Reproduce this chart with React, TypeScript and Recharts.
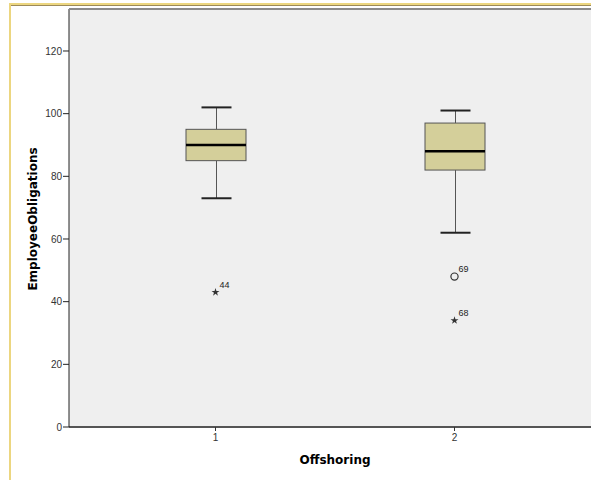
import { Bar, CartesianGrid, ComposedChart, Scatter, XAxis, YAxis } from "recharts";

const categories = ["1", "2"];
const whiskerLow = [73, 62];
const q1 = [85, 82];
const median = [90, 88];
const q3 = [95, 97];
const whiskerHigh = [102, 101];
const extremeValues = [43, 34];
const extremeCases = ["44", "68"];
const outlierValues: (number | null)[] = [null, 48];
const outlierCases: (string | null)[] = [null, "69"];
const yTicks = [0, 20, 40, 60, 80, 100, 120];

const data = categories.map((cat, i) => ({
  cat,
  base: q1[i],
  span: q3[i] - q1[i],
  lo: whiskerLow[i],
  q1: q1[i],
  med: median[i],
  q3: q3[i],
  hi: whiskerHigh[i],
  extreme: extremeValues[i],
  extremeCase: extremeCases[i],
  outlier: outlierValues[i],
  outlierCase: outlierCases[i],
}));

const narrow = "'Liberation Sans Narrow', 'Arial Narrow', 'Liberation Sans', Arial, sans-serif";
const bold = "'DejaVu Sans', Verdana, sans-serif";

const BoxShape = (props: any) => {
  const { x, y, width, height, payload } = props;
  const k = height / (payload.q3 - payload.q1);
  const cx = Math.round(x + width / 2) + 0.5;
  const yHi = y - (payload.hi - payload.q3) * k;
  const yLo = y + height + (payload.q1 - payload.lo) * k;
  const yMed = y + (payload.q3 - payload.med) * k;
  return (
    <g>
      <line x1={cx} x2={cx} y1={yHi} y2={y} stroke="#555" />
      <line x1={cx} x2={cx} y1={y + height} y2={yLo} stroke="#555" />
      <line x1={cx - 15} x2={cx + 15} y1={yHi} y2={yHi} stroke="#222" strokeWidth={2} />
      <line x1={cx - 15} x2={cx + 15} y1={yLo} y2={yLo} stroke="#222" strokeWidth={2} />
      <rect x={x} y={y} width={width} height={height} fill="#d4cf9a" stroke="#555" />
      <line x1={x} x2={x + width} y1={yMed} y2={yMed} stroke="#000" strokeWidth={2.5} />
    </g>
  );
};

const starPath = (cx: number, cy: number) => {
  const pts: string[] = [];
  for (let i = 0; i < 10; i++) {
    const r = i % 2 === 0 ? 4.2 : 1.6;
    const a = -Math.PI / 2 + (i * Math.PI) / 5;
    pts.push(`${cx + r * Math.cos(a)},${cy + r * Math.sin(a)}`);
  }
  return `M${pts.join("L")}Z`;
};

const ExtremeShape = (props: any) => {
  const { cx, cy, payload } = props;
  if (payload.extreme == null) return <g />;
  return (
    <g>
      <path d={starPath(cx, cy)} fill="#333" />
      <text x={cx + 4} y={cy - 4} fontSize={9} fontFamily={narrow} fill="#222">
        {payload.extremeCase}
      </text>
    </g>
  );
};

const OutlierShape = (props: any) => {
  const { cx, cy, payload } = props;
  if (payload.outlier == null) return <g />;
  return (
    <g>
      <circle cx={cx} cy={cy} r={3.6} fill="none" stroke="#333" strokeWidth={1.2} />
      <text x={cx + 4} y={cy - 5} fontSize={9} fontFamily={narrow} fill="#222">
        {payload.outlierCase}
      </text>
    </g>
  );
};

export default function App() {
  return (
    <div
      style={{
        position: "absolute",
        left: 0,
        top: 0,
        width: 591,
        height: 480,
        overflow: "hidden",
        background: "#fff",
      }}
    >
      <div
        style={{
          position: "absolute",
          left: 9,
          top: 3,
          width: 700,
          height: 600,
          borderLeft: "2px solid #ecd680",
          borderTop: "2px solid #ecd680",
        }}
      />
      <div
        style={{ position: "absolute", left: 11, top: 5, width: 700, height: 1, background: "#9c8a5a" }}
      />
      <div style={{ position: "absolute", left: 0, top: 0 }}>
        <ComposedChart
          width={620}
          height={480}
          data={data}
          margin={{ top: 9, right: 20, left: 29, bottom: 33 }}
        >
          <CartesianGrid fill="#efefef" horizontal={false} vertical={false} />
          <XAxis
            dataKey="cat"
            padding={{ left: 27, right: 26 }}
            height={20}
            tickSize={4}
            tickMargin={3}
            tick={{ fill: "#333", fontSize: 10, fontFamily: narrow }}
            tickLine={{ stroke: "#333" }}
            axisLine={{ stroke: "#555", strokeWidth: 2 }}
          />
          <YAxis
            type="number"
            domain={[0, 133.4]}
            ticks={yTicks}
            width={40}
            tickSize={6}
            tickMargin={1}
            tick={{ fill: "#333", fontSize: 10, fontFamily: narrow }}
            tickLine={{ stroke: "#222" }}
            axisLine={{ stroke: "#222" }}
          />
          <Bar dataKey="base" stackId="box" fill="none" barSize={60} isAnimationActive={false} />
          <Bar dataKey="span" stackId="box" barSize={60} shape={BoxShape} isAnimationActive={false} />
          <Scatter dataKey="extreme" shape={ExtremeShape} isAnimationActive={false} />
          <Scatter dataKey="outlier" shape={OutlierShape} isAnimationActive={false} />
        </ComposedChart>
      </div>
      <div
        style={{ position: "absolute", left: 69, top: 8, width: 600, height: 2, background: "#8a8a8a" }}
      />
      <div
        style={{
          position: "absolute",
          left: 335,
          top: 460,
          transform: "translate(-50%, -50%)",
          fontFamily: bold,
          fontWeight: "bold",
          fontSize: 12,
          whiteSpace: "nowrap",
          color: "#000",
        }}
      >
        Offshoring
      </div>
      <div
        style={{
          position: "absolute",
          left: 33,
          top: 219,
          transform: "translate(-50%, -50%) rotate(-90deg)",
          fontFamily: bold,
          fontWeight: "bold",
          fontSize: 12,
          whiteSpace: "nowrap",
          color: "#000",
        }}
      >
        EmployeeObligations
      </div>
    </div>
  );
}
